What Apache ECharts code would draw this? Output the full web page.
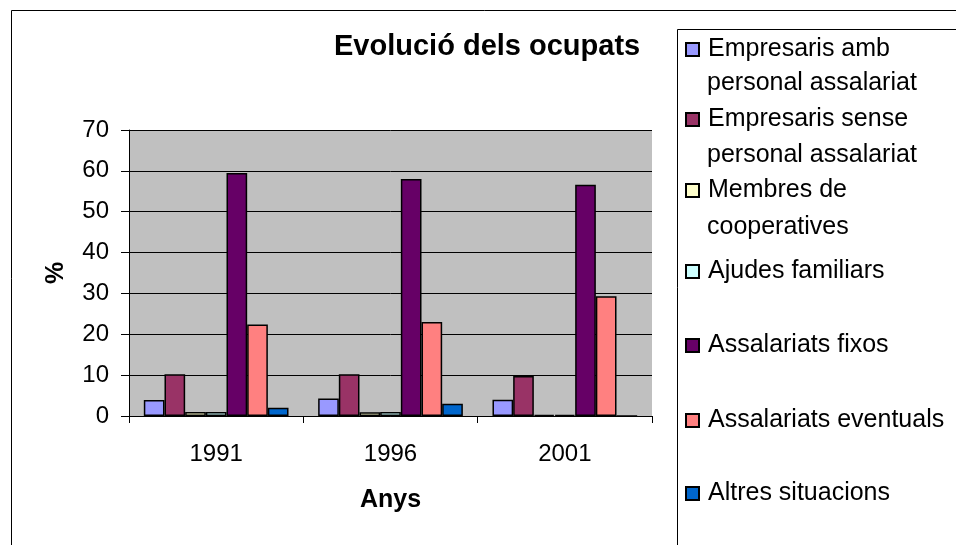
<!DOCTYPE html>
<html>
<head>
<meta charset="utf-8">
<script src="https://cdn.jsdelivr.net/npm/echarts@6/dist/echarts.min.js"></script>
<style>
  html, body { margin: 0; padding: 0; background: #fff; }
  #chart { width: 956px; height: 545px; }
</style>
</head>
<body>
<div id="chart"></div>
<script>
// dades
const years = ['1991', '1996', '2001'];
const seriesNames = [
  'Empresaris amb personal assalariat',
  'Empresaris sense personal assalariat',
  'Membres de cooperatives',
  'Ajudes familiars',
  'Assalariats fixos',
  'Assalariats eventuals',
  'Altres situacions'
];
const empresarisAmb = [3.9, 4.3, 4.0];
const empresarisSense = [10.2, 10.2, 9.8];
const membresCoop = [1.0, 0.9, 0.3];
const ajudesFamiliars = [1.0, 1.0, 0.3];
const fixos = [59.5, 58.0, 56.6];
const eventuals = [22.4, 23.0, 29.3];
const altres = [2.0, 3.0, 0];
const yTicks = [0, 10, 20, 30, 40, 50, 60, 70];

const values = [empresarisAmb, empresarisSense, membresCoop, ajudesFamiliars, fixos, eventuals, altres];
const colors = ['#9999FF', '#993366', '#FFFFCC', '#CCFFFF', '#660066', '#FF8080', '#0066CC'];

// llegenda: primera línia de cada element, la segona es dibuixa com a text
const legendFirst = ['Empresaris amb', 'Empresaris sense', 'Membres de', 'Ajudes familiars',
  'Assalariats fixos', 'Assalariats eventuals', 'Altres situacions'];
const legendSecond = ['personal assalariat', 'personal assalariat', 'cooperatives'];
const legendRowY = [51, 121, 192, 273, 347, 422, 495];
const legendSecondY = [85, 157, 229];

const font = 'Liberation Sans, Arial, sans-serif';
const chart = echarts.init(document.getElementById('chart'));

const legends = seriesNames.map((name, i) => ({
  data: [name],
  left: 685,
  top: legendRowY[i] - 14,
  padding: 0,
  itemWidth: 13,
  itemHeight: 13,
  icon: 'rect',
  selectedMode: false,
  formatter: () => legendFirst[i],
  textStyle: { fontFamily: font, fontSize: 25, color: '#000', padding: [0, 0, 0, 4] }
}));

const graphics = [
  { type: 'rect', left: 9, top: 8, shape: { width: 1000, height: 600 },
    style: { fill: 'none', stroke: '#000', lineWidth: 1 }, silent: true },
  { type: 'rect', left: 675, top: 27, shape: { width: 400, height: 600 },
    style: { fill: 'none', stroke: '#000', lineWidth: 1 }, silent: true }
];
legendSecond.forEach((t, i) => {
  graphics.push({
    type: 'text', left: 707, top: legendSecondY[i] - 14,
    style: { text: t, fontFamily: font, fontSize: 25, fill: '#000' }
  });
});

const option = {
  animation: false,
  backgroundColor: '#fff',
  title: {
    text: 'Evolució dels ocupats',
    left: 334,
    top: 32,
    padding: 0,
    textStyle: { fontFamily: font, fontSize: 29, fontWeight: 'bold', color: '#000' }
  },
  legend: legends,
  graphic: graphics,
  grid: {
    left: 129, top: 130, right: 304, bottom: 129,
    show: true, backgroundColor: '#C0C0C0', borderWidth: 0
  },
  xAxis: {
    type: 'category',
    data: years,
    name: 'Anys',
    nameLocation: 'middle',
    nameGap: 72,
    nameTextStyle: { fontFamily: font, fontSize: 25, fontWeight: 'bold', color: '#000' },
    axisLine: { lineStyle: { color: '#000', width: 1 } },
    axisTick: { show: true, alignWithLabel: false, length: 7, lineStyle: { color: '#000' } },
    axisLabel: { fontFamily: font, fontSize: 24, color: '#000', margin: 26 }
  },
  yAxis: {
    type: 'value',
    min: 0, max: 70, interval: 10,
    name: '%',
    nameLocation: 'middle',
    nameGap: 60,
    nameRotate: 90,
    nameTextStyle: { fontFamily: font, fontSize: 25, fontWeight: 'bold', color: '#000' },
    axisLine: { show: true, lineStyle: { color: '#000', width: 1 } },
    axisTick: { show: true, length: 8, lineStyle: { color: '#000' } },
    axisLabel: {
      fontFamily: font, fontSize: 24, color: '#000', margin: 20,
      formatter: v => (yTicks.includes(v) ? String(v) : '')
    },
    splitLine: { show: true, lineStyle: { color: '#000', width: 1 } }
  },
  series: seriesNames.map((name, i) => ({
    name,
    type: 'bar',
    data: values[i],
    barGap: '0%',
    barCategoryGap: '17%',
    itemStyle: { color: colors[i], borderColor: '#000', borderWidth: 1.5 }
  }))
};

chart.setOption(option);
</script>
</body>
</html>
